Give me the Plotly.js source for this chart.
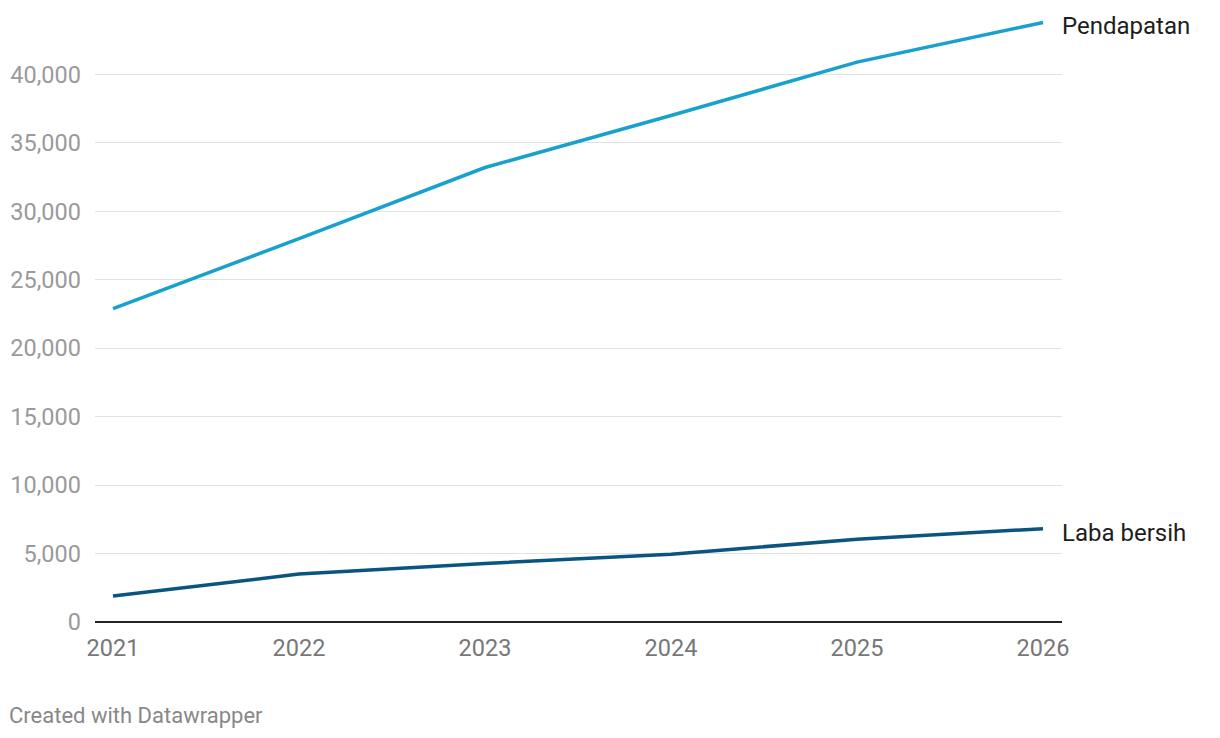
<!DOCTYPE html>
<html>
<head>
<meta charset="utf-8">
<script src="https://cdn.plot.ly/plotly-3.0.1.min.js"></script>
<style>
html,body{margin:0;padding:0;background:#fff;}
#chart{width:1220px;height:738px;}
</style>
</head>
<body>
<div id="chart"></div>
<script>
const years = [2021, 2022, 2023, 2024, 2025, 2026];
const pendapatan = [22900, 28000, 33200, 37000, 40900, 43800];
const labaBersih = [1900, 3500, 4280, 4950, 6050, 6820];
const seriesNames = ["Pendapatan", "Laba bersih"];
const yTicks = [0, 5000, 10000, 15000, 20000, 25000, 30000, 35000, 40000];
const yTickLabels = ["0", "5,000", "10,000", "15,000", "20,000", "25,000", "30,000", "35,000", "40,000"];
const footer = "Created with Datawrapper";

const colors = ["#18a1cd", "#09557f"];

const traces = [
  {x: years, y: pendapatan, name: seriesNames[0], mode: "lines", line: {color: colors[0], width: 3.5}, hoverinfo: "x+y"},
  {x: years, y: labaBersih, name: seriesNames[1], mode: "lines", line: {color: colors[1], width: 3.5}, hoverinfo: "x+y"}
];

const layout = {
  width: 1220, height: 738,
  margin: {l: 95, r: 158, t: 6, b: 116},
  paper_bgcolor: "#fff", plot_bgcolor: "#fff",
  showlegend: false,
  font: {family: "Roboto, sans-serif"},
  xaxis: {
    range: [2020.903, 2026.102],
    tickvals: years, ticktext: years.map(String),
    showgrid: false, zeroline: false, showline: false,
    ticks: "", ticklabelstandoff: 9,
    tickfont: {size: 23.5, color: "#777"}
  },
  yaxis: {
    range: [0, 45000],
    tickvals: yTicks, ticktext: yTickLabels,
    showgrid: true, gridcolor: "#e2e2e2", gridwidth: 1,
    zeroline: true, zerolinecolor: "#222", zerolinewidth: 2,
    showline: false, ticks: "", ticklabelstandoff: 13,
    tickfont: {size: 23.5, color: "#9a9a9a"}
  },
  annotations: [
    {x: years[years.length-1], y: pendapatan[pendapatan.length-1], xref: "x", yref: "y",
     text: seriesNames[0], showarrow: false, xanchor: "left", yanchor: "middle", xshift: 17, yshift: -4,
     font: {size: 24, color: "#1d1d1d"}},
    {x: years[years.length-1], y: labaBersih[labaBersih.length-1], xref: "x", yref: "y",
     text: seriesNames[1], showarrow: false, xanchor: "left", yanchor: "middle", xshift: 17, yshift: -4,
     font: {size: 24, color: "#1d1d1d"}},
    {x: -0.0915, y: -0.151, xref: "paper", yref: "paper",
     text: footer, showarrow: false, xanchor: "left", yanchor: "middle",
     font: {size: 22, color: "#888"}}
  ]
};

Plotly.newPlot("chart", traces, layout, {displayModeBar: false, staticPlot: true});
</script>
</body>
</html>
